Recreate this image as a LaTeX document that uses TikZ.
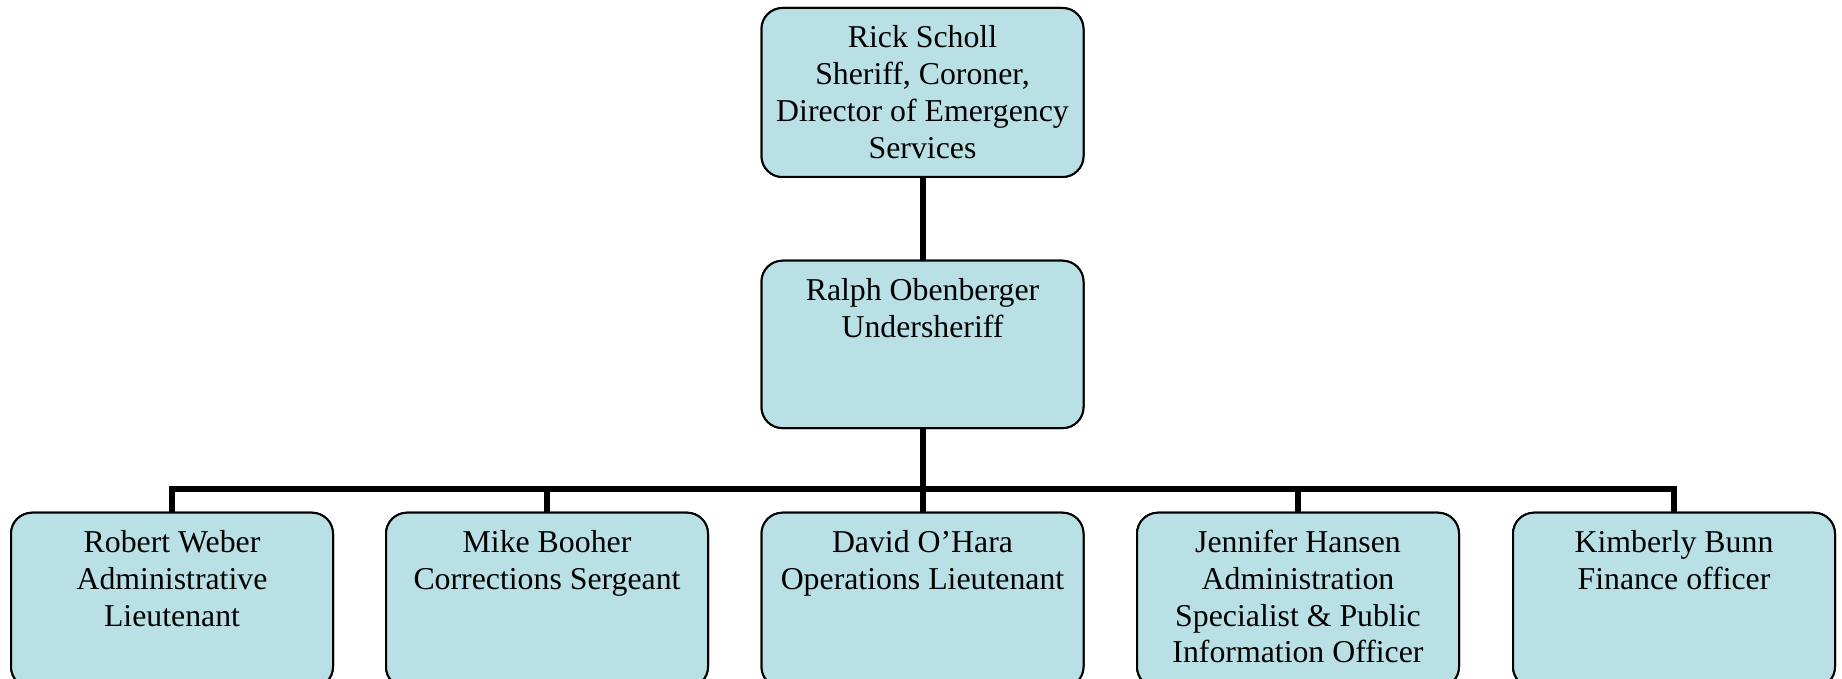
\documentclass[tikz,border=0pt]{standalone}
\usepackage{fontspec}
\setmainfont{Liberation Serif}
\definecolor{boxfill}{RGB}{185,224,228}
\begin{document}
\begin{tikzpicture}[x=0.5pt,y=-0.5pt,
  orgbox/.style={draw=black,line width=1pt,fill=boxfill,rounded corners=10.5pt,
                 minimum width=161pt,inner sep=0pt},
  orgtext/.style={anchor=north,inner sep=0pt,align=center,
                  font=\fontsize{15.9}{18.4}\selectfont},
  link/.style={line width=3pt,line join=miter}]
\useasboundingbox (0,0) rectangle (1842,679);
\clip (0,0) rectangle (1842,679);

% boxes
\node[orgbox,minimum height=84.5pt] (sheriff) at (922.5,92.5) {};
\node[orgbox,minimum height=83.7pt] (under) at (922.5,344.4) {};
\foreach \i/\cx in {1/172,2/547,3/922.5,4/1298,5/1674}
  \node[orgbox,minimum height=87.5pt] (staff\i) at (\cx,600.2) {};

% connectors
\coordinate (bus) at (922.5,489);
\draw[link] (sheriff.south) -- (under.north);
\draw[link] (under.south) -- (bus);
\foreach \i in {1,...,5}
  \draw[link] (bus) -| (staff\i.north);

% redraw boxes over the connector ends
\node[orgbox,minimum height=84.5pt] at (sheriff) {};
\node[orgbox,minimum height=83.7pt] at (under) {};
\foreach \i in {1,...,5}
  \node[orgbox,minimum height=87.5pt] at (staff\i) {};

% labels: first baseline about 20pt below the top edge
\tikzset{textgap/.style={yshift=-7.3pt}}
\node[orgtext] (t-sheriff) at ([textgap]sheriff.north)
  {\strut Rick Scholl\\Sheriff, Coroner,\\Director of Emergency\\Services};
\node[orgtext] (t-under) at ([textgap]under.north)
  {\strut Ralph Obenberger\\Undersheriff};
\node[orgtext] (t-staff1) at ([textgap]staff1.north)
  {\strut Robert Weber\\Administrative\\Lieutenant};
\node[orgtext] (t-staff2) at ([textgap]staff2.north)
  {\strut Mike Booher\\Corrections Sergeant};
\node[orgtext] (t-staff3) at ([textgap]staff3.north)
  {\strut David O’Hara\\Operations Lieutenant};
\node[orgtext] (t-staff4) at ([textgap]staff4.north)
  {\strut Jennifer Hansen\\Administration\\Specialist \& Public\\Information Officer};
\node[orgtext] (t-staff5) at ([textgap]staff5.north)
  {\strut Kimberly Bunn\\Finance officer};
\end{tikzpicture}
\end{document}
